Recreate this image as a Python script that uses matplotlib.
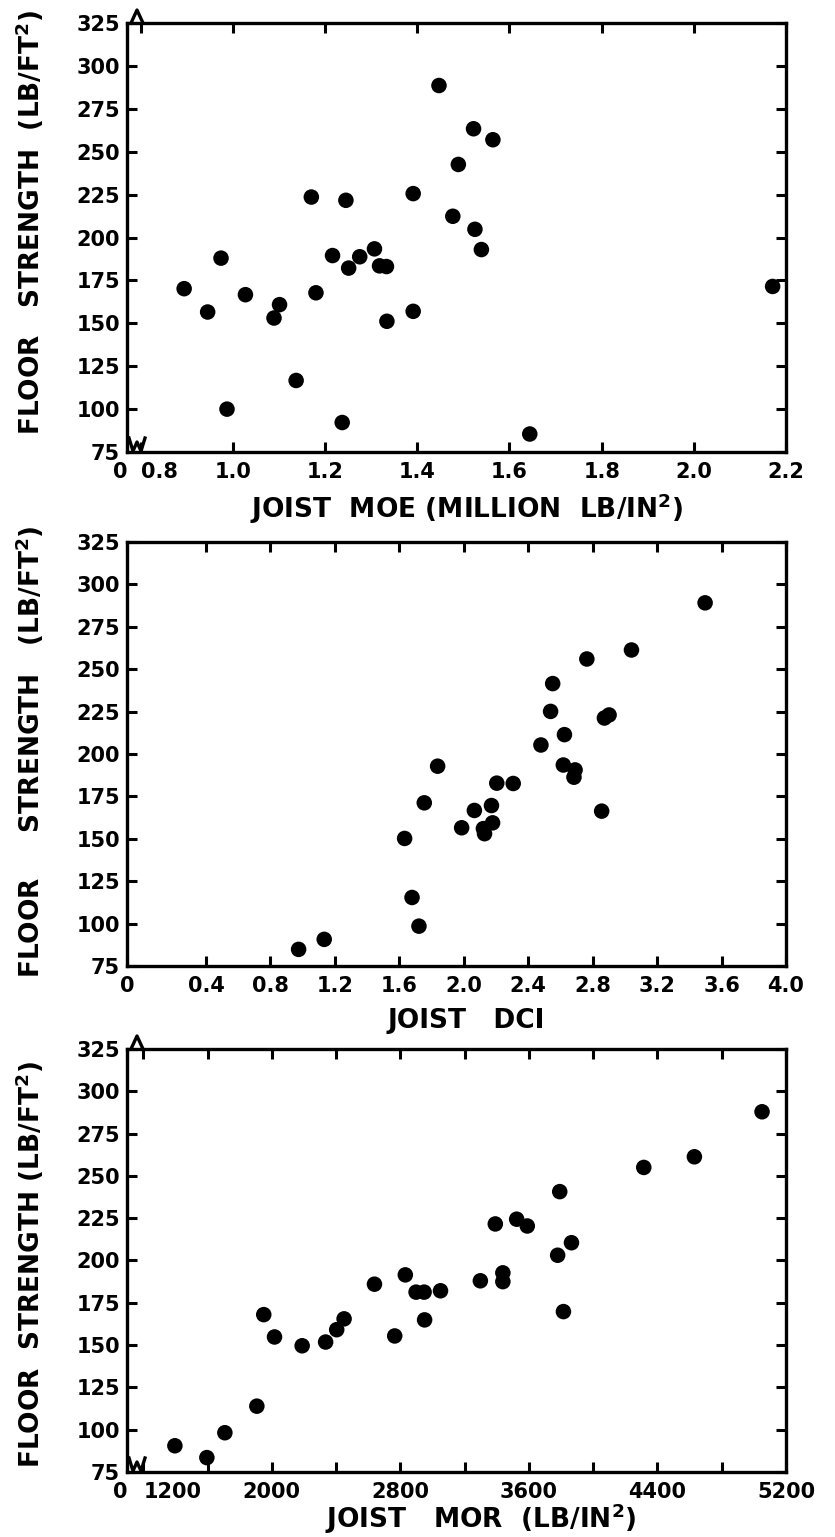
import matplotlib
matplotlib.use("Agg")
import matplotlib.pyplot as plt

plt.rcParams['font.family'] = ['DejaVu Sans']
plt.rcParams['font.weight'] = 'bold'
plt.rcParams['axes.labelweight'] = 'bold'
plt.rcParams['mathtext.default'] = 'bf'

# --- panel 1: floor strength vs joist MOE ---
moe = [1.447, 1.522, 1.564, 1.489, 1.170, 1.245, 1.391, 1.477, 1.525, 1.539,
       1.307, 1.216, 1.275, 1.251, 1.318, 1.333, 0.974, 0.894, 1.027, 1.180,
       0.945, 1.101, 1.089, 1.334, 1.391, 1.137, 0.987, 1.237, 1.644, 2.171]
strength_moe = [288.6, 263.4, 257.0, 242.6, 223.6, 221.7, 225.6, 212.4, 204.8, 193.0,
                193.4, 189.5, 188.8, 182.2, 183.5, 183.1, 188.0, 170.2, 166.7, 167.8,
                156.6, 160.9, 153.1, 151.2, 157.0, 116.7, 100.0, 92.2, 85.5, 171.5]

# --- panel 2: floor strength vs joist DCI ---
dci = [3.498, 3.041, 2.764, 2.552, 2.539, 2.873, 2.902, 2.625, 2.479, 2.618,
       2.691, 2.684, 1.838, 2.205, 2.307, 1.755, 2.066, 2.172, 2.856, 2.179,
       1.987, 2.122, 2.129, 1.633, 1.679, 1.722, 1.134, 0.975]
strength_dci = [289.1, 261.3, 256.0, 241.5, 225.1, 221.2, 223.0, 211.4, 205.3, 193.5,
                190.6, 186.3, 192.8, 182.8, 182.6, 171.2, 166.7, 169.6, 166.3, 159.4,
                156.5, 156.0, 153.0, 150.2, 115.4, 98.5, 90.7, 84.8]

# --- panel 3: floor strength vs joist MOR ---
mor = [5051, 4630, 4315, 3792, 3391, 3524, 3590, 3865, 3779, 3438,
       3438, 3298, 2831, 2639, 2898, 2948, 3050, 3815, 1950, 2450,
       2951, 2404, 2017, 2765, 2335, 2189, 1907, 1708, 1397, 1596]
strength_mor = [287.9, 261.3, 255.0, 240.7, 221.6, 224.4, 220.4, 210.5, 203.1, 192.7,
                187.5, 188.0, 191.5, 186.0, 181.3, 181.3, 182.1, 169.8, 168.0, 165.5,
                164.9, 159.1, 154.8, 155.4, 151.8, 149.6, 113.9, 98.2, 90.5, 83.5]

y_ticks = list(range(75, 326, 25))

moe_ticks = [0.77, 0.8, 1.0, 1.2, 1.4, 1.6, 1.8, 2.0, 2.2]
moe_labels = ['0', '0.8', '1.0', '1.2', '1.4', '1.6', '1.8', '2.0', '2.2']
dci_ticks = [-0.09, 0.4, 0.8, 1.2, 1.6, 2.0, 2.4, 2.8, 3.2, 3.6, 4.0]
dci_labels = ['0', '0.4', '0.8', '1.2', '1.6', '2.0', '2.4', '2.8', '3.2', '3.6', '4.0']
mor_ticks = [1099, 1200, 1600, 2000, 2400, 2800, 3200, 3600, 4000, 4400, 4800, 5200]
mor_labels = ['0', '1200', '', '2000', '', '2800', '', '3600', '', '4400', '', '5200']

AX_W_PX = 659


def style_axes(ax, xticks, xlabels, xlabel, ylabel, xlab_pos, ylab_pos, split_first=False):
    ax.set_xlim(xticks[0], xticks[-1])
    ax.set_ylim(75, 325)
    ax.set_yticks(y_ticks)
    ax.set_xticks(xticks)
    ax.set_xticklabels(xlabels)
    ax.tick_params(direction='in', length=7, width=2.2, top=True, right=True,
                   labelsize=15)
    ax.tick_params(axis='x', pad=7)
    ax.tick_params(axis='y', pad=5)
    for sp in ax.spines.values():
        sp.set_linewidth(2.4)
    labs = ax.get_xticklabels()
    if split_first:
        labs[0].set_horizontalalignment('right')
        labs[1].set_horizontalalignment('left')
    ax.set_xlabel(xlabel, fontsize=19, fontweight='bold')
    ax.xaxis.label.set_va('baseline')
    ax.xaxis.set_label_coords(*xlab_pos)
    ax.set_ylabel(ylabel, fontsize=19, fontweight='bold')
    ax.yaxis.label.set_va('center')
    ax.yaxis.set_label_coords(*ylab_pos)


def add_breaks(ax, h_px):
    # axis-break marks at the left end of the top and bottom spines
    fx = lambda p: p / AX_W_PX
    ax.plot([fx(4), fx(10), fx(16)], [1, 1 + 13 / h_px, 1], color='black', lw=2.4,
            transform=ax.transAxes, clip_on=False)
    ax.plot([fx(2), fx(6), fx(10), fx(14), fx(18)],
            [14 / h_px, 1 / h_px, 10 / h_px, 1 / h_px, 14 / h_px],
            color='black', lw=2.4, transform=ax.transAxes, clip_on=False)


fig = plt.figure(figsize=(8.35, 15.37), dpi=100)
left, width = 0.1521, 0.7892

ax1 = fig.add_axes([left, 0.7059, width, 0.2791])
ax1.scatter(moe, strength_moe, s=125, color='black', edgecolors='none', clip_on=False, zorder=3)
style_axes(ax1, moe_ticks, moe_labels, 'JOIST  MOE (MILLION  LB/IN$^{2}$)',
           'FLOOR   STRENGTH  (LB/FT$^{2}$)', (0.516, -0.154), (-0.147, 0.536), split_first=True)
add_breaks(ax1, 429)

ax2 = fig.add_axes([left, 0.3715, width, 0.2759])
ax2.scatter(dci, strength_dci, s=125, color='black', edgecolors='none', clip_on=False, zorder=3)
style_axes(ax2, dci_ticks, dci_labels, 'JOIST   DCI',
           'FLOOR     STRENGTH   (LB/FT$^{2}$)', (0.514, -0.146), (-0.147, 0.505))

ax3 = fig.add_axes([left, 0.0423, width, 0.2752])
ax3.scatter(mor, strength_mor, s=125, color='black', edgecolors='none', clip_on=False, zorder=3)
style_axes(ax3, mor_ticks, mor_labels, 'JOIST   MOR  (LB/IN$^{2}$)',
           'FLOOR  STRENGTH (LB/FT$^{2}$)', (0.537, -0.132), (-0.147, 0.49), split_first=True)
add_breaks(ax3, 423)

fig.savefig('out.png', dpi=100)
